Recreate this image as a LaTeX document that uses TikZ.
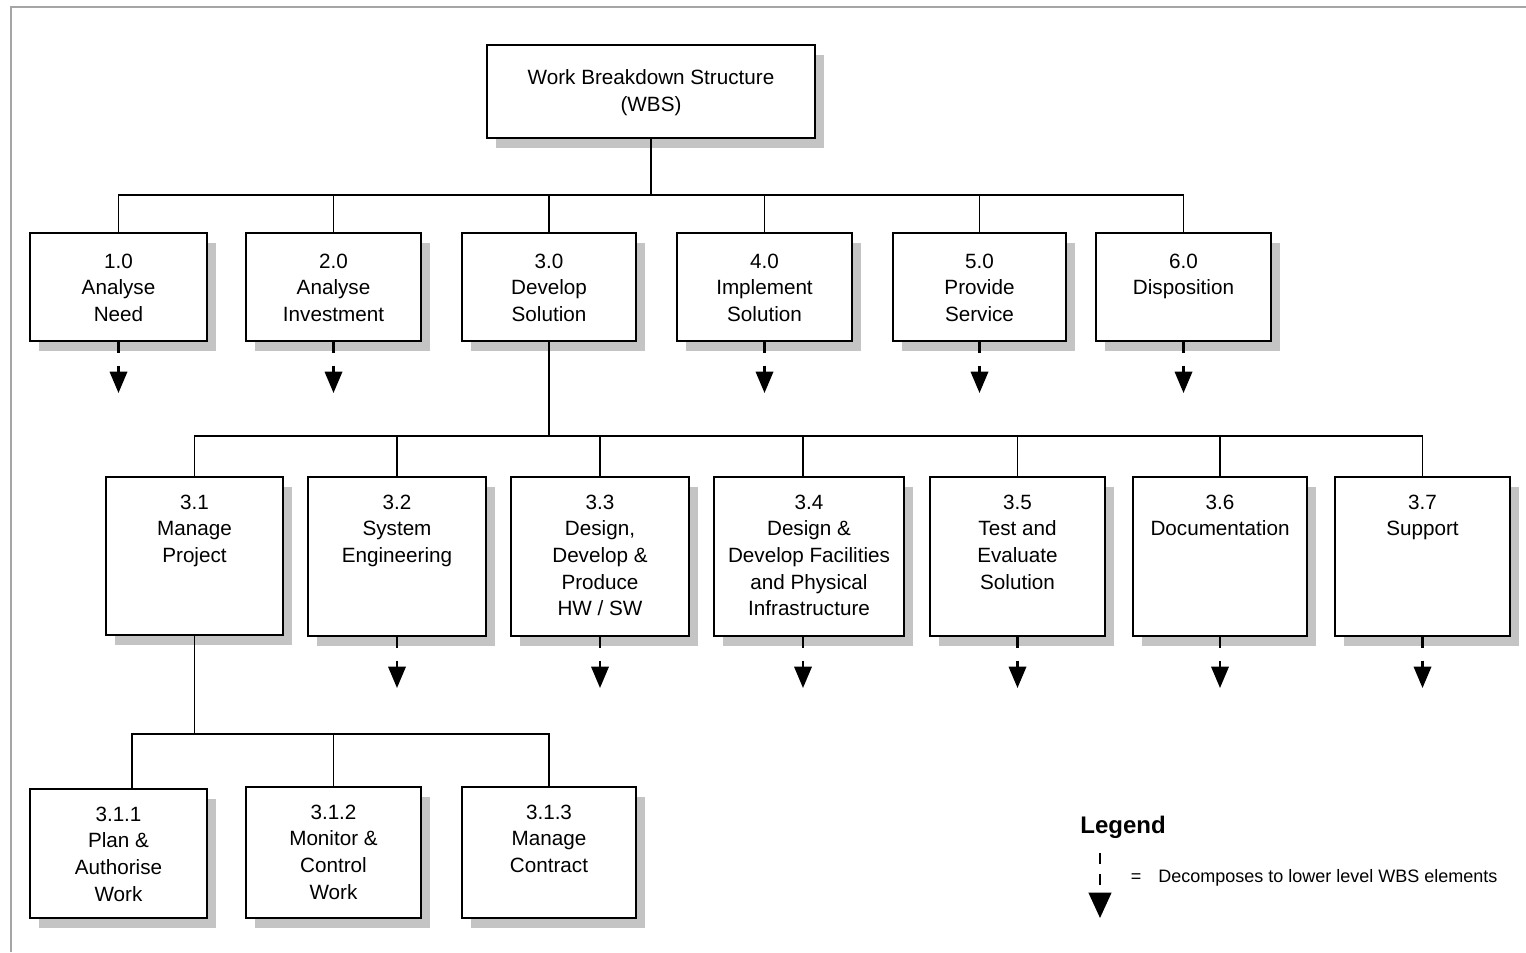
\documentclass[tikz,border=0pt]{standalone}
\usepackage{fontspec}
\setmainfont{Liberation Sans}
\usetikzlibrary{arrows.meta,shadows}
\definecolor{shadowgray}{RGB}{196,196,196}
\definecolor{framegray}{RGB}{165,165,165}
\tikzset{
  wbs/.style={draw=black, line width=1.3pt, fill=white, inner sep=0pt, outer sep=0pt,
    drop shadow={shadow xshift=6.75pt, shadow yshift=-7.5pt, fill=shadowgray, opacity=1}},
  lbl/.style={inner sep=0pt, align=center, font=\fontsize{15.5pt}{20pt}\selectfont},
  conn/.style={draw=black, line width=1.3pt},
  decomp/.style={draw=black, line width=1.8pt, dash pattern=on 9pt off 9.5pt on 30pt,
    -{Triangle[length=16pt,width=13pt]}},
  legarrow/.style={draw=black, line width=1.5pt, dash pattern=on 8pt off 8pt,
    -{Triangle[length=19pt,width=17pt]}},
  frame/.style={draw=framegray, line width=1.6pt}
}
\newcommand{\wbsbox}[7]{%
  \node[wbs, minimum width={(#4-#2)*0.75pt}, minimum height={(#5-#3)*0.75pt}] (#1) at ({(#2+#4)/2},{(#3+#5)/2}) {};
  \node[lbl, anchor=north] (#1-t) at ([yshift=-#6pt]#1.north) {#7};
}
\newcommand{\decompose}[2]{% node, xshift
  \coordinate (#1-e) at ([xshift=#2pt, yshift=-39pt]#1.south);
  \draw[decomp] ([xshift=#2pt]#1.south) -- (#1-e);
}
\begin{document}
\begin{tikzpicture}[x=0.75pt, y=-0.75pt]
\useasboundingbox (0,0) rectangle (1526,952);
% frame
\draw[frame] (11,952) -- (11,7) -- (1526,7);

% top
\wbsbox{top}{487}{45}{815}{138}{18.4}{Work Breakdown Structure\\(WBS)}

% level 1
\wbsbox{b10}{30}{233}{207}{341}{15.4}{1.0\\Analyse\\Need}
\wbsbox{b20}{246}{233}{421}{341}{15.4}{2.0\\Analyse\\Investment}
\wbsbox{b30}{462}{233}{636}{341}{15.4}{3.0\\Develop\\Solution}
\wbsbox{b40}{677}{233}{852}{341}{15.4}{4.0\\Implement\\Solution}
\wbsbox{b50}{893}{233}{1066}{341}{15.4}{5.0\\Provide\\Service}
\wbsbox{b60}{1096}{233}{1271}{341}{15.4}{6.0\\Disposition}

% level 2
\wbsbox{b31}{106}{477}{283}{635}{13.2}{3.1\\Manage\\Project}
\wbsbox{b32}{308}{477}{486}{636}{13.2}{3.2\\System\\Engineering}
\wbsbox{b33}{511}{477}{689}{636}{13.2}{3.3\\Design,\\Develop \&\\Produce\\HW / SW}
\wbsbox{b34}{714}{477}{904}{636}{13.2}{3.4\\Design \&\\Develop Facilities\\and Physical\\Infrastructure}
\wbsbox{b35}{930}{477}{1105}{636}{13.2}{3.5\\Test and\\Evaluate\\Solution}
\wbsbox{b36}{1133}{477}{1307}{636}{13.2}{3.6\\Documentation}
\wbsbox{b37}{1335}{477}{1510}{636}{13.2}{3.7\\Support}

% level 3
\wbsbox{b311}{30}{789}{207}{918}{13.2}{3.1.1\\Plan \&\\Authorise\\Work}
\wbsbox{b312}{246}{787}{421}{918}{13.2}{3.1.2\\Monitor \&\\Control\\Work}
\wbsbox{b313}{462}{787}{636}{918}{13.2}{3.1.3\\Manage\\Contract}

% connectors top -> level 1
\foreach \c in {b10,b20,b30,b40,b50,b60}
  \draw[conn] (top.south) -- ++(0,57) -| (\c.north);

% connectors 3.0 -> level 2
\foreach \c in {b31,b32,b33,b35,b36,b37}
  \draw[conn] (b30.south) -- ++(0,95) -| (\c.north);
\draw[conn] (b30.south) -- ++(0,95) -| ([xshift=-4.5pt]b34.north);

% connectors 3.1 -> level 3
\draw[conn] (b31.south) -- ++(0,99) -| ([xshift=10pt]b311.north);
\draw[conn] (b31.south) -- ++(0,99) -| (b312.north);
\draw[conn] (b31.south) -- ++(0,99) -| (b313.north);

% decomposition arrows
\decompose{b10}{0}
\decompose{b20}{0}
\decompose{b40}{0}
\decompose{b50}{0}
\decompose{b60}{0}
\decompose{b32}{0}
\decompose{b33}{0}
\decompose{b34}{-4.5}
\decompose{b35}{0}
\decompose{b36}{0}
\decompose{b37}{0}

% legend
\node[font=\fontsize{18pt}{22pt}\selectfont\bfseries, inner sep=0pt] (leg) at (1123,827) {Legend};
\coordinate (lgA) at (1100,853);
\coordinate (lgB) at (1100,918);
\draw[legarrow] (lgA) -- (lgB);
\node[font=\fontsize{13.5pt}{16pt}\selectfont, inner sep=0pt] (eq) at (1136,878) {=};
\node[font=\fontsize{13.5pt}{16pt}\selectfont, inner sep=0pt, anchor=west] (legtxt) at (1158,878) {Decomposes to lower level WBS elements};
\end{tikzpicture}
\end{document}
